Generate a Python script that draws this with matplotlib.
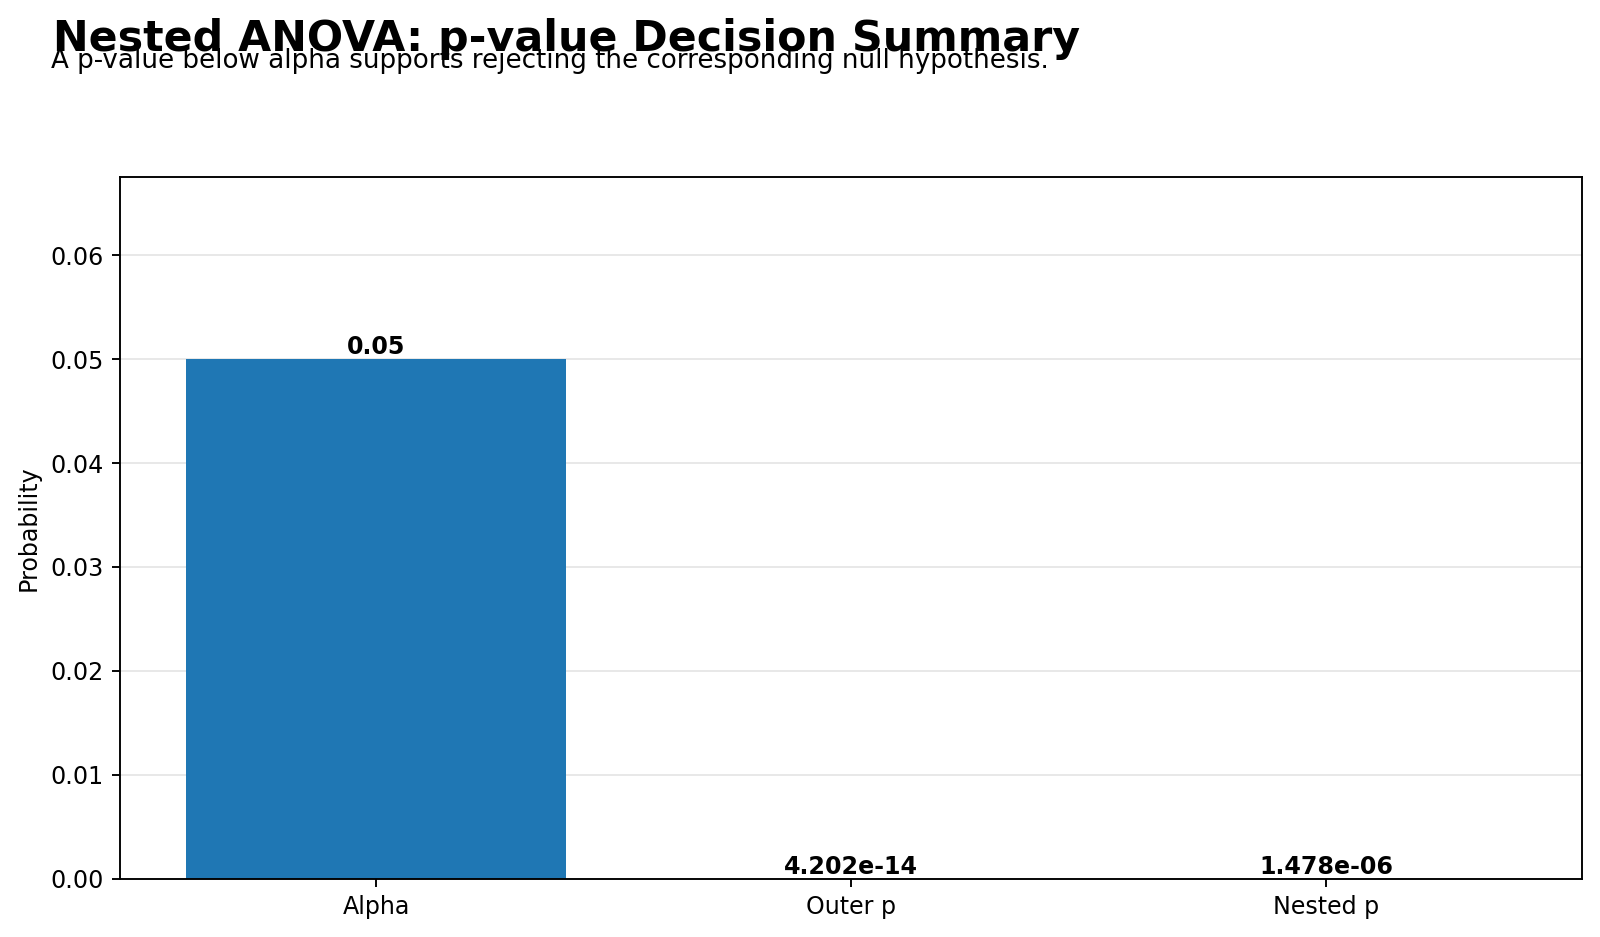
import matplotlib
matplotlib.use("Agg")
import matplotlib.pyplot as plt

# data
labels = ["Alpha", "Outer p", "Nested p"]
values = [0.05, 4.202e-14, 1.478e-06]

DPI = 171
fig = plt.figure(figsize=(1600 / DPI, 937 / DPI), dpi=DPI)
ax = fig.add_axes([0.075, 0.0624, 0.914, 0.7482])

bars = ax.bar(labels, values, color="#1f77b4", width=0.8)
ax.set_ylim(0, max(values) * 1.35)
ax.set_ylabel("Probability", fontsize=10)
ax.tick_params(labelsize=10)
ax.yaxis.grid(True, color="#dddddd", linewidth=0.8, alpha=0.7)
ax.set_axisbelow(True)

for b, v in zip(bars, values):
    ax.text(b.get_x() + b.get_width() / 2, b.get_height(), f"{v:.4g}",
            ha="center", va="bottom", fontsize=10, fontweight="bold")

fig.text(0.033, 0.981, "Nested ANOVA: p-value Decision Summary",
         fontsize=18, fontweight="bold", ha="left", va="top")
fig.text(0.032, 0.949, "A p-value below alpha supports rejecting the corresponding null hypothesis.",
         fontsize=11, ha="left", va="top")

fig.savefig("out.png", dpi=DPI)
